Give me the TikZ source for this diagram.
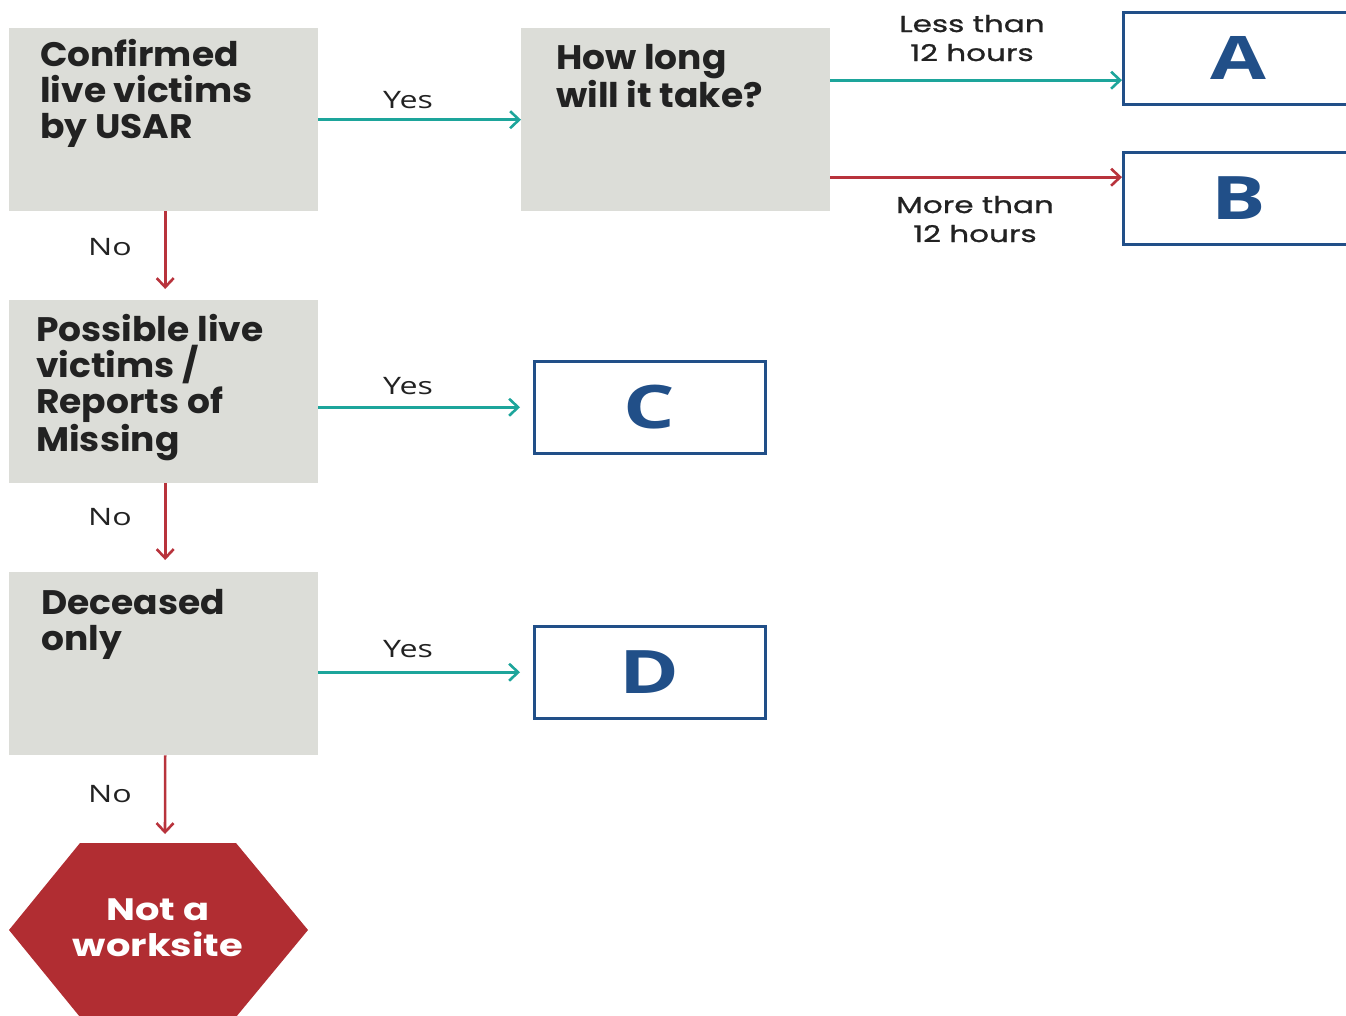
\documentclass[tikz,border=0pt]{standalone}
\usepackage{fontspec}
\setmainfont{Open Sans}
\newfontfamily\headfont{Poppins}[FakeStretch=1.06]
\newfontfamily\hexfont{Poppins}[FakeStretch=1.24]
\newfontfamily\hrsfont{Poppins}[FakeStretch=1.35, FakeBold=1]
\newfontfamily\lblfont{Open Sans}[FakeStretch=1.34]
\newfontfamily\catfont{Open Sans}[FakeStretch=1.35]
\usetikzlibrary{arrows.meta}

\definecolor{boxgray}{HTML}{DCDDD8}
\definecolor{yesteal}{HTML}{1DA59B}
\definecolor{nored}{HTML}{B8333C}
\definecolor{hexred}{HTML}{B12D32}
\definecolor{catblue}{HTML}{214F88}
\definecolor{labelgray}{HTML}{222222}

\tikzset{
  qbox/.style={fill=boxgray, anchor=north west, inner sep=0pt, minimum width=309pt, minimum height=183pt},
  qtext/.style={anchor=base west, align=left, inner sep=0pt, text=labelgray, font=\headfont\bfseries\fontsize{34}{36}\selectfont},
  catbox/.style={draw=catblue, line width=2.5pt, anchor=north west, inner sep=0pt, minimum width=231pt, minimum height=92pt, text=catblue, font=\catfont\bfseries\fontsize{60}{60}\selectfont},
  yes/.style={yesteal, line width=2.6pt, -{Straight Barb[length=9pt,width=17pt]}},
  no/.style={nored, line width=2.6pt, -{Straight Barb[length=9pt,width=17pt]}},
  lbl/.style={anchor=base, inner sep=0pt, text=labelgray, font=\lblfont\fontsize{24}{26}\selectfont},
  hrslbl/.style={anchor=base, align=center, inner sep=0pt, text=labelgray, font=\hrsfont\fontsize{23}{29}\selectfont},
}

\begin{document}
\begin{tikzpicture}[x=1pt, y=-1pt]
  \useasboundingbox (0,0) rectangle (1346,1015);
  \clip (0,0) rectangle (1346,1015);

  % Question boxes (text nodes sit on the baseline of their last line)
  \node[qbox] (conf) at (9,28) {};
  \node[qbox] (howlong) at (521,28) {};
  \node[qbox] (poss) at (9,300) {};
  \node[qbox] (dec) at (9,572) {};
  \node[qtext] (conf-txt) at (40,138) {Confirmed\\live victims\\by USAR};
  \node[qtext] (howlong-txt) at (556,107) {How long\\will it take?};
  \node[qtext] (poss-txt) at (36,451) {Possible live\\victims /\\Reports of\\Missing};
  \node[qtext] (dec-txt) at (41,650) {Deceased\\only};

  % Category boxes
  \node[catbox] (a) at (1122,11) {A};
  \node[catbox] (b) at (1122,151) {B};
  \node[catbox] (c) at (533,360) {C};
  \node[catbox] (d) at (533,625) {D};

  % Not a worksite hexagon
  \fill[hexred] (80,843) -- (236,843) -- (308,930) -- (236,1017) -- (80,1017) -- (9,930) -- cycle;
  \node[anchor=base, align=center, inner sep=0pt, text=white, font=\hexfont\bfseries\fontsize{31}{36}\selectfont]
    (notws) at (158,956) {Not a\\worksite};
  \coordinate (notws-top) at (165,843);

  % Yes arrows
  \draw[yes] (conf.east) -- (howlong.west);
  \draw[yes, shorten >=13pt] (poss.east |- c.west) -- (c.west);
  \draw[yes, shorten >=13pt] (dec.east |- d.west) -- (d.west);
  \draw[yes] ([yshift=39.5pt]howlong.east) -- ([yshift=39.5pt]howlong.east -| a.west);
  \draw[no] ([yshift=-57.5pt]howlong.east) -- ([yshift=-57.5pt]howlong.east -| b.west);

  % No arrows
  \draw[no, shorten >=11pt] ([xshift=1.5pt]conf.south) -- ([xshift=1.5pt]poss.north);
  \draw[no, shorten >=12pt] ([xshift=1.5pt]poss.south) -- ([xshift=1.5pt]dec.north);
  \draw[no, shorten >=9pt] ([xshift=1.5pt]dec.south) -- (notws-top);

  % Arrow labels
  \node[lbl] (yes1) at (408,108) {Yes};
  \node[lbl] (yes2) at (408,394) {Yes};
  \node[lbl] (yes3) at (408,657) {Yes};
  \node[lbl] (no1) at (110,255) {No};
  \node[lbl] (no2) at (110,525) {No};
  \node[lbl] (no3) at (110,802) {No};
  \node[hrslbl] (less) at (972,61) {Less than\\12 hours};
  \node[hrslbl] (more) at (975,242) {More than\\12 hours};
\end{tikzpicture}
\end{document}
